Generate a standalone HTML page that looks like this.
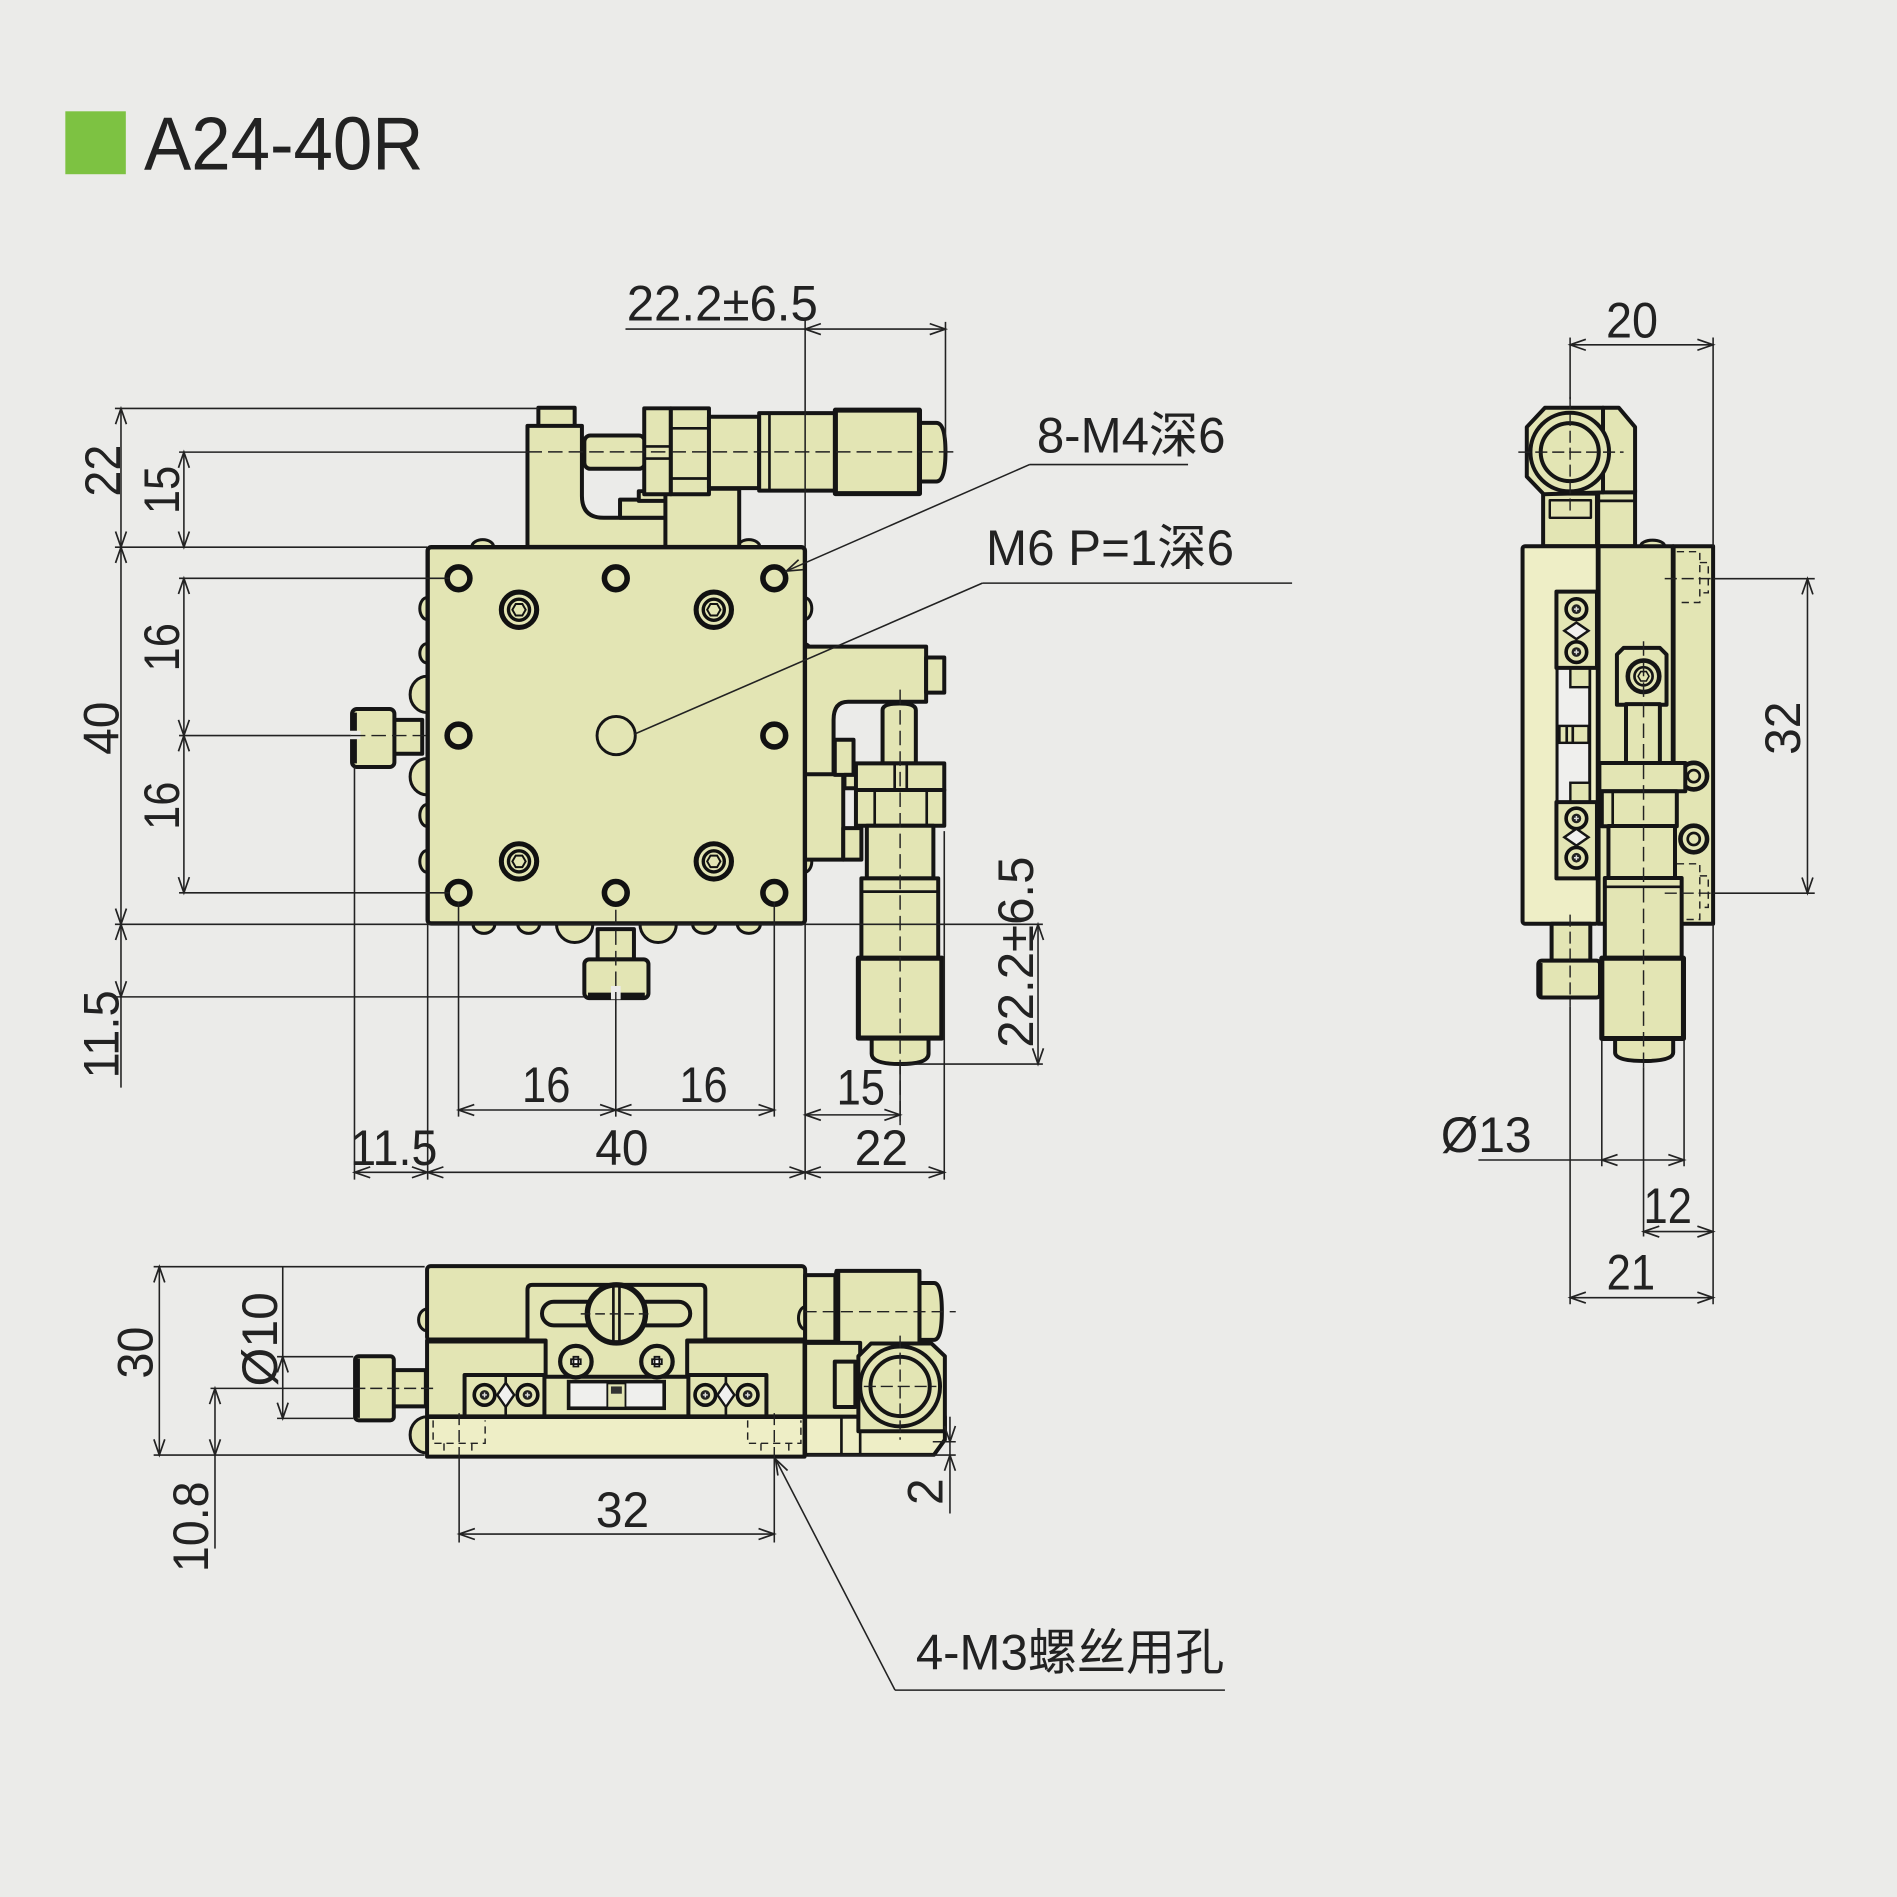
<!DOCTYPE html>
<html><head><meta charset="utf-8"><style>
html,body{margin:0;padding:0;background:#ebebe9;}
svg{display:block}
.o{fill:#e3e5b4;stroke:#151515;stroke-width:3.3;stroke-linejoin:round}
.lt{fill:#eeeec6}
.w{fill:#f1f1ef;stroke:#151515;stroke-width:2}
.t{stroke:#222;stroke-width:1.3;fill:none}
.c{stroke:#222;stroke-width:1.2;fill:none;stroke-dasharray:12 5}
.h{stroke:#222;stroke-width:1.2;fill:none;stroke-dasharray:6 4}
.k{fill:none;stroke:#151515;stroke-width:2.2}
.K{fill:none;stroke:#151515;stroke-width:5}
.d{marker-start:url(#a);marker-end:url(#a)}
.e{marker-end:url(#a)}
text{font-family:"Liberation Sans","Noto Sans CJK SC",sans-serif;fill:#222;font-size:41px}
</style></head><body>
<svg width="1897" height="1897" viewBox="0 0 1568 1568" xmlns="http://www.w3.org/2000/svg">
<defs>
<marker id="a" markerUnits="userSpaceOnUse" markerWidth="20" markerHeight="14" viewBox="-16 -7 20 14" refX="0" refY="0" orient="auto-start-reverse" overflow="visible"><path d="M-13,-4.5L0,0L-13,4.5" fill="none" stroke="#222" stroke-width="1.4"/></marker>
<g id="sh"><circle r="9.4" fill="#e3e5b4" stroke="#111" stroke-width="4.6"/></g>
<g id="cb"><circle r="14.6" fill="#e3e5b4" stroke="#111" stroke-width="4.2"/><circle r="8.7" fill="none" stroke="#111" stroke-width="2.8"/><polygon points="5.5,0 2.75,4.76 -2.75,4.76 -5.5,0 -2.75,-4.76 2.75,-4.76" fill="none" stroke="#111" stroke-width="1.6"/></g>
<g id="rs"><circle r="8.5" fill="#e3e5b4" stroke="#111" stroke-width="3"/><circle r="4" fill="#222"/><path d="M-2,0H2M0,-2V2" stroke="#ddd" stroke-width="1.2"/></g>
</defs>
<rect width="1568" height="1568" fill="#ebebe9"/>

<!-- TITLE -->
<rect x="54" y="92" width="50" height="52" fill="#7dc242"/>
<text x="119" y="140" style="font-size:62px" textLength="231" lengthAdjust="spacingAndGlyphs">A24-40R</text>

<!-- ================= TOP VIEW ================= -->
<g class="o" style="stroke-width:2.5">
<ellipse cx="399" cy="452" rx="9" ry="6"/><ellipse cx="619" cy="452" rx="9" ry="6"/>
<ellipse cx="353" cy="503" rx="6" ry="9"/><ellipse cx="353" cy="540" rx="6" ry="8"/>
<ellipse cx="353" cy="574" rx="14" ry="15"/><ellipse cx="353" cy="642" rx="14" ry="15"/>
<ellipse cx="353" cy="674" rx="6" ry="9"/><ellipse cx="353" cy="712" rx="6" ry="9"/>
<ellipse cx="665" cy="503" rx="6" ry="9"/><ellipse cx="665" cy="541" rx="6" ry="9"/>
<ellipse cx="665" cy="674" rx="6" ry="9"/><ellipse cx="665" cy="712" rx="6" ry="9"/>
<ellipse cx="400" cy="764" rx="9" ry="7.5"/><ellipse cx="437" cy="764" rx="9" ry="7.5"/>
<ellipse cx="475" cy="764" rx="15" ry="15"/><ellipse cx="544" cy="764" rx="15" ry="15"/>
<ellipse cx="582" cy="764" rx="9.5" ry="7.5"/><ellipse cx="619" cy="764" rx="9.5" ry="7.5"/>
</g>
<rect class="o" x="325" y="595" width="24" height="28"/>
<rect class="o" x="291" y="586" width="35" height="48" rx="4"/>
<line class="K" x1="292.5" y1="589" x2="292.5" y2="631"/>
<rect x="289" y="604" width="9" height="7" fill="#ebebe9"/>
<rect class="o" x="494" y="768" width="30" height="25"/>
<rect class="o" x="483" y="793" width="53" height="32" rx="4"/>
<line class="K" x1="486" y1="823" x2="533" y2="823"/>
<rect x="505" y="815" width="8" height="11" fill="#ebebe9"/>

<rect class="o" x="445" y="337" width="30" height="16"/>
<path class="o" d="M436,452V352H481V410Q481,428 499,428H551V452Z"/>
<rect class="o" x="512.5" y="413" width="38.5" height="15"/>
<rect class="o" x="528" y="406" width="23" height="8"/>
<rect class="o" x="550" y="404" width="61" height="48"/>
<rect class="o" x="483" y="360" width="50" height="27.5" rx="5"/>
<rect class="o" x="532.5" y="337.5" width="22" height="71"/>
<line class="k" x1="532.5" y1="369" x2="554.5" y2="369"/><line class="k" x1="532.5" y1="379" x2="554.5" y2="379"/>
<rect class="o" x="554.5" y="337.5" width="31.5" height="71"/>
<line class="k" x1="554.5" y1="354" x2="586" y2="354"/><line class="k" x1="554.5" y1="395.5" x2="586" y2="395.5"/>
<rect class="o" x="586" y="344.5" width="41.5" height="59"/>
<rect class="o" x="627.5" y="341.5" width="63" height="64"/>
<line class="k" x1="636" y1="341.5" x2="636" y2="405.5"/>
<path class="o" d="M760,349.5H774Q781.5,349.5 781.5,373.5Q781.5,398 774,398H760Z"/>
<rect class="o" x="690.5" y="339" width="69.5" height="69" style="stroke-width:4.2"/>

<path class="o" d="M665,534.5H765.5V580H701Q689,580 689,595V641H665Z"/>
<rect class="o" x="765.5" y="543.5" width="15" height="29"/>
<rect class="o" x="665" y="640" width="32" height="70.5"/>
<rect class="o" x="697" y="684.5" width="15" height="26"/>
<rect class="o" x="690" y="611.5" width="15.5" height="29"/>
<rect class="o" x="698" y="640.5" width="10" height="11"/>
<path class="o" d="M729.5,631V587Q729.5,581.5 743.5,581.5Q757,581.5 757,587V631Z"/>
<rect class="o" x="707.5" y="631" width="73" height="22"/>
<line class="k" x1="739.5" y1="631" x2="739.5" y2="653"/><line class="k" x1="749.5" y1="631" x2="749.5" y2="653"/>
<rect class="o" x="707.5" y="653" width="73" height="29.5"/>
<line class="k" x1="723" y1="653" x2="723" y2="682.5"/><line class="k" x1="766" y1="653" x2="766" y2="682.5"/>
<rect class="o" x="716.5" y="682.5" width="55" height="43.5"/>
<rect class="o" x="712" y="726" width="63.5" height="66"/>
<line class="k" x1="712" y1="737" x2="775.5" y2="737"/>
<path class="o" d="M720.5,858V871Q720.5,879.5 744,879.5Q767.5,879.5 767.5,871V858Z"/>
<rect class="o" x="709.5" y="792" width="69" height="66" style="stroke-width:4.2"/>

<rect class="o" x="353.5" y="452.3" width="311.8" height="311" rx="3" style="stroke-width:3.6"/>
<use href="#sh" x="379" y="478"/><use href="#sh" x="509" y="478"/><use href="#sh" x="640" y="478"/>
<use href="#sh" x="379" y="608"/><use href="#sh" x="640" y="608"/>
<use href="#sh" x="379" y="738"/><use href="#sh" x="509" y="738"/><use href="#sh" x="640" y="738"/>
<use href="#cb" x="429" y="504"/><use href="#cb" x="590" y="504"/>
<use href="#cb" x="429" y="712"/><use href="#cb" x="590" y="712"/>
<circle cx="509.3" cy="608" r="15.8" fill="#e3e5b4" stroke="#151515" stroke-width="2.4"/>

<line class="c" x1="436" y1="373.5" x2="792" y2="373.5"/>
<line class="c" x1="744" y1="570" x2="744" y2="930"/>
<line class="c" x1="290" y1="608" x2="352" y2="608"/>
<line class="c" x1="509" y1="752" x2="509" y2="830"/>

<g class="t">
<line x1="517" y1="272" x2="665" y2="272"/>
<line class="d" x1="665.5" y1="272" x2="781.5" y2="272"/>
<line x1="665.5" y1="264" x2="665.5" y2="452"/>
<line x1="781.5" y1="266" x2="781.5" y2="373"/>
<line class="d" x1="100" y1="337.6" x2="100" y2="452.3"/>
<line class="d" x1="100" y1="452.3" x2="100" y2="764"/>
<line class="d" x1="100" y1="764" x2="100" y2="824"/>
<line x1="100" y1="824" x2="100" y2="899"/>
<line class="d" x1="152" y1="373.7" x2="152" y2="452.3"/>
<line class="d" x1="152" y1="478" x2="152" y2="608"/>
<line class="d" x1="152" y1="608" x2="152" y2="738"/>
<line x1="95" y1="337.6" x2="445" y2="337.6"/>
<line x1="148" y1="373.7" x2="436" y2="373.7"/>
<line x1="95" y1="452.3" x2="353" y2="452.3"/>
<line x1="148" y1="478" x2="372" y2="478"/>
<line x1="148" y1="608" x2="290" y2="608"/>
<line x1="148" y1="738" x2="372" y2="738"/>
<line x1="95" y1="764" x2="862" y2="764"/>
<line x1="95" y1="824" x2="483" y2="824"/>
<line x1="293" y1="634" x2="293" y2="975"/>
<line x1="353.5" y1="764" x2="353.5" y2="975"/>
<line x1="379" y1="746" x2="379" y2="923"/>
<line x1="509" y1="826" x2="509" y2="923"/>
<line x1="640" y1="746" x2="640" y2="923"/>
<line x1="665.5" y1="764" x2="665.5" y2="975"/>
<line x1="744" y1="879" x2="744" y2="927"/>
<line x1="780.5" y1="687" x2="780.5" y2="975"/>
<line class="d" x1="379" y1="917.5" x2="509" y2="917.5"/>
<line class="d" x1="509" y1="917.5" x2="640" y2="917.5"/>
<line class="d" x1="665.5" y1="921.5" x2="744" y2="921.5"/>
<line class="d" x1="293" y1="969" x2="353.5" y2="969"/>
<line class="d" x1="353.5" y1="969" x2="665.5" y2="969"/>
<line class="d" x1="665.5" y1="969" x2="780.5" y2="969"/>
<line class="d" x1="858" y1="764" x2="858" y2="879.5"/>
<line x1="745" y1="879.5" x2="862" y2="879.5"/>
<line x1="982" y1="384" x2="851" y2="384"/>
<line class="e" x1="851" y1="384" x2="650" y2="472"/>
<line x1="1068" y1="482" x2="812" y2="482"/>
<line x1="812" y1="482" x2="524" y2="607"/>
</g>

<text x="518" y="265" textLength="158" lengthAdjust="spacingAndGlyphs">22.2±6.5</text>
<text x="857" y="374" textLength="156" lengthAdjust="spacingAndGlyphs">8-M4深6</text>
<text x="815" y="467" textLength="205" lengthAdjust="spacingAndGlyphs">M6 P=1深6</text>
<g text-anchor="middle">
<text transform="translate(84,389) rotate(-90)" dy="15" textLength="43" lengthAdjust="spacingAndGlyphs">22</text>
<text transform="translate(133,405) rotate(-90)" dy="15" textLength="40" lengthAdjust="spacingAndGlyphs">15</text>
<text transform="translate(83,602) rotate(-90)" dy="15" textLength="44" lengthAdjust="spacingAndGlyphs">40</text>
<text transform="translate(133,535) rotate(-90)" dy="15" textLength="40" lengthAdjust="spacingAndGlyphs">16</text>
<text transform="translate(133,666) rotate(-90)" dy="15" textLength="40" lengthAdjust="spacingAndGlyphs">16</text>
<text transform="translate(83,855) rotate(-90)" dy="15" textLength="73" lengthAdjust="spacingAndGlyphs">11.5</text>
<text transform="translate(839,787) rotate(-90)" dy="15" textLength="158" lengthAdjust="spacingAndGlyphs">22.2±6.5</text>
<text x="451.5" y="911" textLength="40" lengthAdjust="spacingAndGlyphs">16</text>
<text x="581.5" y="911" textLength="40" lengthAdjust="spacingAndGlyphs">16</text>
<text x="711.5" y="913" textLength="40" lengthAdjust="spacingAndGlyphs">15</text>
<text x="325.5" y="963" textLength="72" lengthAdjust="spacingAndGlyphs">11.5</text>
<text x="514" y="963" textLength="44" lengthAdjust="spacingAndGlyphs">40</text>
<text x="728.5" y="963" textLength="44" lengthAdjust="spacingAndGlyphs">22</text>
</g>

<!-- ================= FRONT VIEW ================= -->
<ellipse class="o" cx="353" cy="1091" rx="7" ry="9" style="stroke-width:2.5"/>
<ellipse class="o" cx="353" cy="1186" rx="14" ry="15" style="stroke-width:2.5"/>
<rect class="o" x="325" y="1132.5" width="27" height="30"/>
<rect class="o" x="293.5" y="1121" width="32" height="53" rx="3"/>
<line class="K" x1="295" y1="1123" x2="295" y2="1172"/>
<rect class="o lt" x="353" y="1171" width="312" height="33"/>
<rect class="o" x="353" y="1108" width="312" height="63"/>
<rect class="o" x="353" y="1046.5" width="312.5" height="61.5" rx="3"/>
<line class="K" x1="353" y1="1108" x2="665" y2="1108"/>
<path class="o" d="M436,1108V1066Q436,1062 440,1062H579Q583,1062 583,1066V1108H568V1138H451V1108Z"/>
<rect class="o" x="448" y="1076" width="122.5" height="19.5" rx="9.7"/>
<circle cx="509.5" cy="1086" r="24" fill="#e3e5b4" stroke="#151515" stroke-width="4.5"/>
<line class="k" x1="507" y1="1063" x2="507" y2="1109"/><line class="k" x1="512" y1="1063" x2="512" y2="1109"/>
<line class="c" x1="480" y1="1086" x2="540" y2="1086" style="stroke-dasharray:8 4"/>
<g><circle cx="476" cy="1125.5" r="13" fill="#e3e5b4" stroke="#151515" stroke-width="3.5"/><path d="M472,1123.5h8v4h-8zM474,1121.5h4v8h-4z" fill="#fff" stroke="#151515" stroke-width="1.5"/></g>
<g><circle cx="543" cy="1125.5" r="13" fill="#e3e5b4" stroke="#151515" stroke-width="3.5"/><path d="M539,1123.5h8v4h-8zM541,1121.5h4v8h-4z" fill="#fff" stroke="#151515" stroke-width="1.5"/></g>
<rect class="o" x="384" y="1136.5" width="66" height="34.5"/>
<use href="#rs" x="400.5" y="1153"/><use href="#rs" x="436" y="1153"/>
<polygon class="w" points="418,1143 425,1153 418,1163 411,1153"/>
<line class="k" x1="418" y1="1136.5" x2="418" y2="1143"/><line class="k" x1="418" y1="1163" x2="418" y2="1171"/>
<rect class="o" x="569" y="1136.5" width="64.5" height="34.5"/>
<use href="#rs" x="583" y="1153"/><use href="#rs" x="618" y="1153"/>
<polygon class="w" points="600,1143 607,1153 600,1163 593,1153"/>
<line class="k" x1="600" y1="1136.5" x2="600" y2="1143"/><line class="k" x1="600" y1="1163" x2="600" y2="1171"/>
<rect x="470" y="1142" width="79" height="22" fill="#efefed" stroke="#151515" stroke-width="3"/>
<rect x="502" y="1143.5" width="15" height="20" fill="#e3e5b4" stroke="#151515" stroke-width="1.5"/>
<rect x="505" y="1146" width="9" height="6" fill="#333"/>
<line class="K" x1="353" y1="1171" x2="665" y2="1171" style="stroke-width:3.8"/>
<path class="h" d="M358,1174V1193H401V1174M367,1193V1201M390,1193V1201M618,1174V1193H662V1174M629,1193V1201M652,1193V1201"/>
<line class="c" x1="379.5" y1="1168" x2="379.5" y2="1206" style="stroke-dasharray:10 4"/>
<line class="c" x1="640" y1="1168" x2="640" y2="1206" style="stroke-dasharray:10 4"/>
<ellipse class="o" cx="666" cy="1089.5" rx="6" ry="9.5" style="stroke-width:2.5"/>
<rect class="o" x="665.5" y="1054" width="25" height="55"/>
<path class="o" d="M760,1060.5H772Q778.5,1060.5 778.5,1084Q778.5,1107.5 772,1107.5H760Z"/>
<rect class="o" x="691.5" y="1050.5" width="68.5" height="67"/>
<line class="K" x1="692" y1="1051" x2="692" y2="1117"/>
<rect class="o" x="665.5" y="1110" width="45.5" height="61"/>
<rect class="o" x="690" y="1125.5" width="17" height="37.5"/>
<path class="o lt" d="M665.5,1171H781V1190L772,1202.5H665.5Z"/>
<line class="k" x1="695.5" y1="1171" x2="695.5" y2="1202"/><line class="k" x1="711" y1="1171" x2="711" y2="1202"/>
<polygon class="o" points="720,1110.5 770,1110.5 781,1121 781,1183 709.5,1183 709.5,1121"/>
<circle cx="744" cy="1146" r="33" fill="#e3e5b4" stroke="#151515" stroke-width="3.3"/>
<circle cx="744" cy="1146" r="24.5" fill="#e3e5b4" stroke="#151515" stroke-width="3.3"/>
<line class="c" x1="665" y1="1084.2" x2="790" y2="1084.2" style="stroke-dasharray:10 5"/>
<line class="c" x1="714" y1="1146" x2="774" y2="1146" style="stroke-dasharray:10 4"/>
<line class="c" x1="744" y1="1104" x2="744" y2="1190" style="stroke-dasharray:10 4"/>
<line class="c" x1="292" y1="1147.6" x2="358" y2="1147.6" style="stroke-dasharray:10 4"/>

<g class="t">
<line x1="127" y1="1047" x2="351" y2="1047"/>
<line x1="127" y1="1202.7" x2="351" y2="1202.7"/>
<line class="d" x1="131.7" y1="1047" x2="131.7" y2="1202.7"/>
<line x1="233.7" y1="1047" x2="233.7" y2="1121.4"/>
<line class="d" x1="233.7" y1="1121.4" x2="233.7" y2="1172.4"/>
<line x1="229" y1="1121.4" x2="292" y2="1121.4"/>
<line x1="229" y1="1172.4" x2="292" y2="1172.4"/>
<line class="d" x1="177.7" y1="1147.6" x2="177.7" y2="1202.7"/>
<line x1="177.7" y1="1202.7" x2="177.7" y2="1280"/>
<line x1="174" y1="1147.6" x2="292" y2="1147.6"/>
<line class="d" x1="379.5" y1="1268" x2="640" y2="1268"/>
<line x1="379.5" y1="1206" x2="379.5" y2="1275"/>
<line x1="640" y1="1206" x2="640" y2="1275"/>
<line class="e" x1="785.2" y1="1171" x2="785.2" y2="1191.7"/>
<line x1="785.2" y1="1191.7" x2="785.2" y2="1202.7"/>
<line class="e" x1="785.2" y1="1251" x2="785.2" y2="1202.7"/>
<line x1="771" y1="1191.7" x2="790" y2="1191.7"/>
<line x1="668" y1="1202.7" x2="790" y2="1202.7"/>
<line class="e" x1="739.8" y1="1397" x2="641" y2="1206"/>
<line x1="739.8" y1="1397" x2="1012.5" y2="1397"/>
</g>
<g text-anchor="middle">
<text transform="translate(111,1118) rotate(-90)" dy="15" textLength="43" lengthAdjust="spacingAndGlyphs">30</text>
<text transform="translate(214,1107) rotate(-90)" dy="15" textLength="78" lengthAdjust="spacingAndGlyphs">Ø10</text>
<text transform="translate(157,1262) rotate(-90)" dy="15" textLength="75" lengthAdjust="spacingAndGlyphs">10.8</text>
<text transform="translate(764,1233) rotate(-90)" dy="15" textLength="22" lengthAdjust="spacingAndGlyphs">2</text>
<text x="514.5" y="1262" textLength="44" lengthAdjust="spacingAndGlyphs">32</text>
</g>
<text x="757" y="1380" textLength="255" lengthAdjust="spacingAndGlyphs">4-M3螺丝用孔</text>

<!-- ================= SIDE VIEW ================= -->
<ellipse class="o" cx="1366" cy="451.5" rx="10" ry="5" style="stroke-width:2.5"/>
<rect class="o" x="1275.5" y="408" width="44.5" height="43.5"/>
<rect class="o" x="1281" y="413.5" width="34" height="14.5" style="stroke-width:2"/>
<rect class="o" x="1321" y="405" width="30.5" height="46.5"/>
<line class="k" x1="1321" y1="414" x2="1351.5" y2="414"/>
<rect class="o lt" x="1258.5" y="451.5" width="62.5" height="312" rx="2"/>
<rect class="o" x="1321" y="451.5" width="62" height="312"/>
<rect class="o" x="1383" y="451.5" width="33" height="312"/>
<line class="K" x1="1321" y1="452" x2="1321" y2="763" style="stroke-width:4"/>
<line class="K" x1="1383" y1="452" x2="1383" y2="763" style="stroke-width:4"/>
<path class="h" d="M1386,456H1405V498H1386M1405,465H1412V490H1405M1386,714H1405V760H1386M1405,724H1412V750H1405"/>
<rect x="1287" y="551.8" width="27" height="111.2" fill="#efefed" stroke="#151515" stroke-width="2.5"/>
<rect x="1298" y="552" width="16" height="16" fill="#e3e5b4" stroke="#151515" stroke-width="2"/>
<rect x="1298" y="647" width="16" height="16" fill="#e3e5b4" stroke="#151515" stroke-width="2"/>
<rect x="1289" y="600" width="24" height="14" fill="#e3e5b4" stroke="#151515" stroke-width="2"/>
<line class="k" x1="1295" y1="600" x2="1295" y2="614"/><line class="k" x1="1300" y1="600" x2="1300" y2="614"/>
<rect class="o" x="1286.5" y="489" width="33.5" height="63"/>
<use href="#rs" x="1303" y="503.5"/><use href="#rs" x="1303" y="539"/>
<polygon class="w" points="1293,521.4 1303,514.5 1313,521.4 1303,528.3"/>
<rect class="o" x="1286.5" y="663" width="33.5" height="63"/>
<use href="#rs" x="1303" y="676.5"/><use href="#rs" x="1303" y="709"/>
<polygon class="w" points="1293,692 1303,685 1313,692 1303,699"/>
<path class="o" d="M1336.5,582.5V541L1342,535.5H1372L1377.5,541V582.5Z"/>
<circle cx="1358.5" cy="559" r="13" fill="#e3e5b4" stroke="#151515" stroke-width="3.8"/>
<circle cx="1358.5" cy="559" r="7.5" fill="none" stroke="#151515" stroke-width="2.2"/>
<polygon points="1363,559 1360.8,562.9 1356.2,562.9 1354,559 1356.2,555.1 1360.8,555.1" fill="none" stroke="#151515" stroke-width="1.3"/>
<circle cx="1400" cy="641.5" r="11" fill="#e3e5b4" stroke="#151515" stroke-width="3.8"/>
<circle cx="1400" cy="641.5" r="5" fill="none" stroke="#151515" stroke-width="2.2"/>
<circle cx="1400" cy="693.5" r="11" fill="#e3e5b4" stroke="#151515" stroke-width="3.8"/>
<circle cx="1400" cy="693.5" r="5" fill="none" stroke="#151515" stroke-width="2.2"/>
<rect class="o" x="1344" y="582" width="28" height="49"/>
<rect class="o" x="1322" y="630.7" width="71" height="23.3"/>
<rect class="o" x="1324" y="654" width="62" height="29"/>
<line class="k" x1="1333" y1="654" x2="1333" y2="683"/>
<rect class="o" x="1329.5" y="682.7" width="55" height="43"/>
<rect class="o" x="1326.5" y="725.7" width="63.5" height="66.3"/>
<line class="k" x1="1326.5" y1="733" x2="1390" y2="733"/>
<path class="o" d="M1335,858V870Q1335,877 1359,877Q1383,877 1383,870V858Z"/>
<rect class="o" x="1324" y="792" width="67.5" height="66.4" style="stroke-width:4.2"/>
<rect class="o" x="1282.5" y="763.5" width="32" height="30.5"/>
<rect class="o" x="1271.5" y="794" width="51" height="30.5" rx="3"/>
<line class="K" x1="1273" y1="796" x2="1273" y2="823" style="stroke-width:4"/>
<path class="o" d="M1325,337H1338L1351.5,353V407H1325Z"/>
<polygon class="o" points="1277,337 1325,337 1325,407 1276,408.5 1262,394 1262,353"/>
<circle cx="1297.5" cy="373.7" r="32.5" fill="#e3e5b4" stroke="#151515" stroke-width="3.3"/>
<circle cx="1297.5" cy="373.7" r="24" fill="#e3e5b4" stroke="#151515" stroke-width="3.3"/>
<line class="c" x1="1358.5" y1="530" x2="1358.5" y2="882" style="stroke-dasharray:12 5"/>
<line class="c" x1="1297.8" y1="328" x2="1297.8" y2="422" style="stroke-dasharray:10 4"/>
<line class="c" x1="1255" y1="373.7" x2="1342" y2="373.7" style="stroke-dasharray:10 4"/>
<line class="c" x1="1297.8" y1="756" x2="1297.8" y2="832" style="stroke-dasharray:10 4"/>
<line class="c" x1="1376" y1="478.3" x2="1416" y2="478.3" style="stroke-dasharray:10 4"/>
<line class="c" x1="1376" y1="738.3" x2="1416" y2="738.3" style="stroke-dasharray:10 4"/>

<g class="t">
<line class="d" x1="1297.8" y1="285" x2="1416" y2="285"/>
<line x1="1297.8" y1="279" x2="1297.8" y2="330"/>
<line x1="1416" y1="279" x2="1416" y2="452"/>
<line class="d" x1="1494" y1="478.3" x2="1494" y2="738.3"/>
<line x1="1416" y1="478.3" x2="1500" y2="478.3"/>
<line x1="1416" y1="738.3" x2="1500" y2="738.3"/>
<line x1="1297.8" y1="832" x2="1297.8" y2="1078"/>
<line x1="1324" y1="860" x2="1324" y2="964"/>
<line x1="1392" y1="860" x2="1392" y2="964"/>
<line x1="1358.5" y1="882" x2="1358.5" y2="1022"/>
<line x1="1416" y1="764" x2="1416" y2="1078"/>
<line x1="1222" y1="958.8" x2="1324" y2="958.8"/>
<line class="d" x1="1324" y1="958.8" x2="1392" y2="958.8"/>
<line class="d" x1="1358.5" y1="1018" x2="1416" y2="1018"/>
<line class="d" x1="1297.8" y1="1072.6" x2="1416" y2="1072.6"/>
</g>
<g text-anchor="middle">
<text x="1349" y="279" textLength="43" lengthAdjust="spacingAndGlyphs">20</text>
<text transform="translate(1473,602) rotate(-90)" dy="15" textLength="44" lengthAdjust="spacingAndGlyphs">32</text>
<text x="1378.5" y="1011" textLength="40" lengthAdjust="spacingAndGlyphs">12</text>
<text x="1348" y="1066" textLength="40" lengthAdjust="spacingAndGlyphs">21</text>
</g>
<text x="1191" y="952" textLength="75" lengthAdjust="spacingAndGlyphs">Ø13</text>
</svg>
</body></html>
